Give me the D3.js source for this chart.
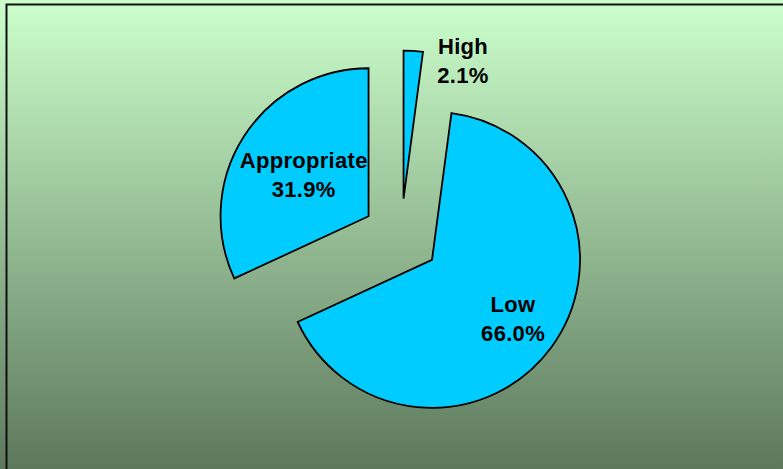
<!DOCTYPE html>
<html>
<meta charset="utf-8">
<style>
body { margin: 0; }
svg { display: block; }
.label { font: bold 22px "Liberation Sans", Arial, sans-serif; letter-spacing: 0.3px; fill: #000; }
</style>
<body>
<script src="https://d3js.org/d3.v7.min.js"></script>
<script>
// slice data, in drawing order starting at 12 o'clock
var categories = ["High", "Low", "Appropriate"];
var values = [2.1, 66.0, 31.9];

var width = 783, height = 469;
var cx = 401, cy = 237, radius = 148, explode = 38.5;

var svg = d3.select("body").append("svg")
    .attr("width", width)
    .attr("height", height);

// background gradient
var grad = svg.append("defs").append("linearGradient")
    .attr("id", "bg").attr("x1", 0).attr("y1", 0).attr("x2", 0).attr("y2", 1);
grad.append("stop").attr("offset", "0%").attr("stop-color", "#ccffcc");
grad.append("stop").attr("offset", "100%").attr("stop-color", "#5d785d");

svg.append("rect")
    .attr("width", width).attr("height", height)
    .attr("fill", "url(#bg)");

// frame (runs off the right and bottom edges)
svg.append("rect")
    .attr("x", 6.5).attr("y", 4.5)
    .attr("width", width + 10).attr("height", height + 10)
    .attr("fill", "none")
    .attr("stroke", "#111")
    .attr("stroke-width", 2);

var data = categories.map(function(c, i) { return {name: c, value: values[i]}; });

var pie = d3.pie().sort(null).value(function(d) { return d.value; });
var arc = d3.arc().innerRadius(0).outerRadius(radius);
var arcs = pie(data);

var g = svg.append("g").attr("transform", "translate(" + cx + "," + cy + ")");

function offset(d) {
  var a = (d.startAngle + d.endAngle) / 2;
  return [explode * Math.sin(a), -explode * Math.cos(a)];
}

var slice = g.selectAll(".slice")
    .data(arcs)
  .enter().append("g")
    .attr("class", "slice")
    .attr("transform", function(d) { var o = offset(d); return "translate(" + o[0] + "," + o[1] + ")"; });

slice.append("path")
    .attr("d", arc)
    .attr("fill", "#00ccff")
    .attr("stroke", "#000")
    .attr("stroke-width", 1.8)
    .attr("stroke-linejoin", "miter");

// label positions: inside for big slices, outside to the right for tiny ones
function labelPos(d) {
  var a = (d.startAngle + d.endAngle) / 2;
  if (d.data.value < 5) {
    var e = d.endAngle;
    return [radius * Math.sin(e) + 40, -radius * Math.cos(e) + 9];
  }
  var f = d.data.value > 50 ? 0.68 : 0.52;
  return [f * radius * Math.sin(a), -f * radius * Math.cos(a)];
}

var label = slice.append("text")
    .attr("class", "label")
    .attr("text-anchor", "middle")
    .attr("transform", function(d) { var p = labelPos(d); return "translate(" + p[0] + "," + p[1] + ")"; });

label.append("tspan")
    .attr("x", 0).attr("y", -7)
    .text(function(d) { return d.data.name; });

label.append("tspan")
    .attr("x", 0).attr("y", 22)
    .text(function(d) { return d.data.value.toFixed(1) + "%"; });
</script>
</body>
</html>
